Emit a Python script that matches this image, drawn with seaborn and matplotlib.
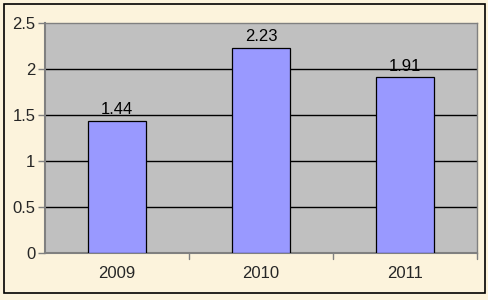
import matplotlib
matplotlib.use("Agg")
import matplotlib.pyplot as plt
import seaborn as sns
import pandas as pd
from matplotlib.patches import Rectangle

years = ["2009", "2010", "2011"]
values = [1.44, 2.23, 1.91]
yticks = [0, 0.5, 1, 1.5, 2, 2.5]

sns.set_style("white")
plt.rcParams['font.family'] = ['Liberation Sans', 'DejaVu Sans']

df = pd.DataFrame({"year": years, "value": values})

fig = plt.figure(figsize=(4.89, 3.0), dpi=100)
fig.patch.set_facecolor("#FCF3DC")
fig.patches.append(Rectangle((4/489, 7/300), 481/489, 289/300, transform=fig.transFigure,
                             fill=False, edgecolor="black", linewidth=1.2, zorder=10))

ax = fig.add_axes([45/489, 1 - 253/300, (477-45)/489, (253-23)/300])
ax.set_facecolor("#C0C0C0")
sns.barplot(data=df, x="year", y="value", ax=ax, color="#9999FF", saturation=1,
            width=0.4, edgecolor="black", linewidth=0.9, zorder=3)

ax.set_ylim(0, 2.5)
ax.set_xlim(-0.5, 2.5)
ax.set_yticks(yticks)
ax.set_yticklabels(["0", "0.5", "1", "1.5", "2", "2.5"])
for y in yticks[1:-1]:
    ax.axhline(y, color="black", linewidth=1.0, zorder=1)

for i, v in enumerate(values):
    ax.text(i, v + 0.07, f"{v:.2f}", ha="center", va="baseline", fontsize=12, color="black", zorder=5)

ax.set_xlabel("")
ax.set_ylabel("")
for s in ["left", "bottom", "top", "right"]:
    ax.spines[s].set_color("#808080")
ax.spines["left"].set_linewidth(1.5)
ax.spines["bottom"].set_linewidth(1.5)
ax.spines["top"].set_linewidth(1.0)
ax.spines["right"].set_linewidth(1.0)

ax.tick_params(axis="y", left=True, length=5, width=1, color="#808080", labelsize=12, pad=2)
ax.tick_params(axis="x", bottom=False, labelsize=12, pad=6)
for xb in [0.5, 1.5, 2.5]:
    ax.plot([xb, xb], [0, -0.07], color="#808080", linewidth=1, clip_on=False, zorder=4)

fig.savefig("out.png", dpi=100, facecolor=fig.get_facecolor())
